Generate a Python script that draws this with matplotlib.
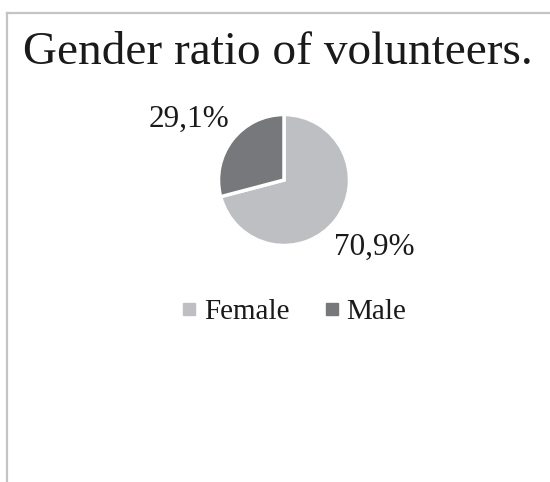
import matplotlib.pyplot as plt
import matplotlib.transforms as mtransforms
from matplotlib.lines import Line2D

categories = ['Female', 'Male']
shares = [70.9, 29.1]
colors = ['#BEBFC2', '#77787B']
title = 'Gender ratio of volunteers.'

plt.rcParams['font.family'] = ['Liberation Serif', 'DejaVu Serif']

W, H = 550, 482
fig = plt.figure(figsize=(W / 100, H / 100), dpi=100)

# chart frame (only top and left edges visible in the crop)
fig.add_artist(Line2D([7 / W, 1], [1 - 13 / H, 1 - 13 / H], color='#C4C4C4', lw=1.6))
fig.add_artist(Line2D([7 / W, 7 / W], [1 - 13 / H, 0], color='#C4C4C4', lw=1.6))

fig.text(278 / W, 1 - 64 / H, title, ha='center', va='baseline',
         fontsize=34, color='#1a1a1a')

cx, cy, r = 284, 180, 65.5
ax = fig.add_axes([(cx - r) / W, (H - cy - r) / H, 2 * r / W, 2 * r / H])
wedges, texts, autotexts = ax.pie(
    shares, colors=colors, startangle=90, counterclock=False,
    autopct=lambda p: f'{p:.1f}%'.replace('.', ','), pctdistance=1.75,
    wedgeprops=dict(edgecolor='white', linewidth=2.5),
    textprops=dict(fontsize=22.5, color='#1a1a1a'))
ax.set_xlim(-1, 1)
ax.set_ylim(-1, 1)
ax.set_aspect('equal')

# nudge labels a little like Excel's best-fit placement
for t, (dx, dy) in zip(autotexts, [(0, 3), (-4, -9)]):
    t.set_transform(mtransforms.offset_copy(t.get_transform(), fig=fig, x=dx, y=dy, units='dots'))

handles = [Line2D([], [], marker='s', ls='none', markersize=8,
                  markerfacecolor=c, markeredgecolor=c) for c in colors]
fig.legend(handles, categories, loc='center', bbox_to_anchor=(294 / W, 1 - 312 / H),
           ncol=2, frameon=False, fontsize=21, handlelength=0.5,
           handletextpad=0.25, columnspacing=1.2, labelcolor='#1a1a1a')

fig.savefig('out.png', dpi=100, facecolor='white')
